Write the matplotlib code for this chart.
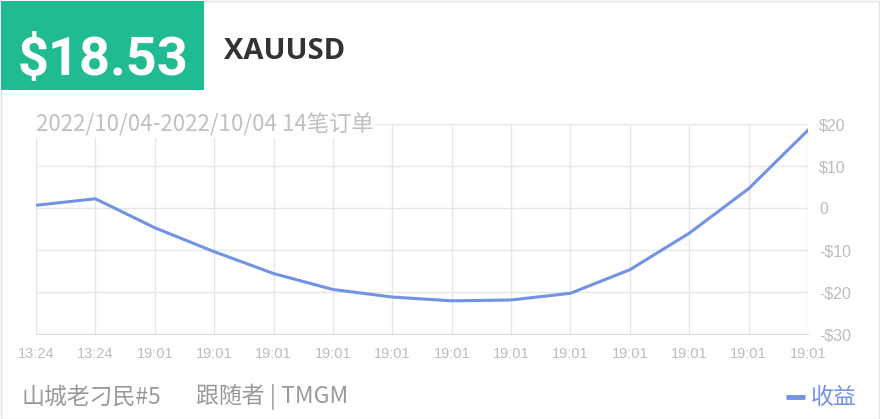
"""Profit curve card for XAUUSD follower account."""
import matplotlib
matplotlib.use("Agg")
import matplotlib.pyplot as plt
from matplotlib.patches import Rectangle
from matplotlib.lines import Line2D

times = ["13:24", "13:24", "19:01", "19:01", "19:01", "19:01", "19:01",
         "19:01", "19:01", "19:01", "19:01", "19:01", "19:01", "19:01"]
profit = [0.65, 2.2, -4.7, -10.4, -15.6, -19.4, -21.2,
          -22.1, -21.9, -20.3, -14.7, -6.0, 4.6, 18.53]
y_ticks = [-30, -20, -10, 0, 10, 20]
y_labels = ["-$30", "-$20", "-$10", "0", "$10", "$20"]

total = "$18.53"
symbol = "XAUUSD"
subtitle = "2022/10/04-2022/10/04 14笔订单"
trader = "山城老刁民#5"
role = "跟随者 | TMGM"
legend_label = "收益"

W, H = 880, 419
GREEN = "#21BB92"
BLUE = "#7292E4"
GRID = "#e6e6e6"
TICK = "#bcbcbc"
CJK = ["Noto Sans CJK SC", "DejaVu Sans"]
TICKFONT = "Liberation Sans"

fig = plt.figure(figsize=(W / 100, H / 100), dpi=100)
fig.patch.set_facecolor("white")

# card border + green total badge
fig.patches.append(Rectangle((0.5 / W, 0.5 / H), 1 - 1.5 / W, 1 - 1.5 / H,
                             transform=fig.transFigure, fill=False,
                             edgecolor="#e3e3e3", lw=1))
fig.patches.append(Rectangle((1 / W, 1 - 90 / H), 203 / W, 89 / H,
                             transform=fig.transFigure, facecolor=GREEN,
                             edgecolor="none"))
fig.text(103 / W, 1 - 75 / H, total, color="white", fontsize=39,
         fontweight="bold", family="Roboto", ha="center", va="baseline")
fig.text(224 / W, 1 - 59 / H, symbol, color="#333333", fontsize=21,
         fontweight="bold", family="Open Sans", ha="left", va="baseline")

ax = fig.add_axes([36 / W, 1 - 334 / H, 772 / W, 210 / H])
x = list(range(len(profit)))
ax.plot(x, profit, color=BLUE, lw=2.2, solid_joinstyle="round", zorder=3)
ax.set_xlim(0, len(profit) - 1)
ax.set_ylim(-30, 20)
ax.set_xticks(x)
ax.set_xticklabels(times, family=TICKFONT, fontsize=10.5, color=TICK)
ax.set_yticks(y_ticks)
ax.set_yticklabels(y_labels, family=TICKFONT, fontsize=11.5, color=TICK)
ax.yaxis.tick_right()
ax.tick_params(length=0, pad=8)
ax.tick_params(axis="x", pad=9)
ax.grid(True, color=GRID, lw=1)
ax.set_axisbelow(True)
for s in ax.spines.values():
    s.set_visible(False)
ax.spines["bottom"].set_visible(True)
ax.spines["bottom"].set_color("#dedede")

fig.text(36 / W, 1 - 132 / H, subtitle, color="#c0c0c0", fontsize=16,
         family=CJK, ha="left", va="baseline",
         bbox=dict(facecolor="white", edgecolor="none", pad=1))

fig.text(22 / W, 1 - 397 / H, trader, color="#999999", fontsize=16.5,
         family=CJK, ha="left", va="center")
fig.text(196 / W, 1 - 397 / H, role, color="#999999", fontsize=16.5,
         family=CJK, ha="left", va="center")
fig.lines.append(Line2D([786 / W, 805 / W], [1 - 397 / H, 1 - 397 / H],
                        transform=fig.transFigure, color=BLUE, lw=3.5,
                        solid_capstyle="butt"))
fig.text(811 / W, 1 - 397 / H, legend_label, color=BLUE, fontsize=16.5,
         family=CJK, ha="left", va="center")

fig.savefig("out.png", dpi=100)
